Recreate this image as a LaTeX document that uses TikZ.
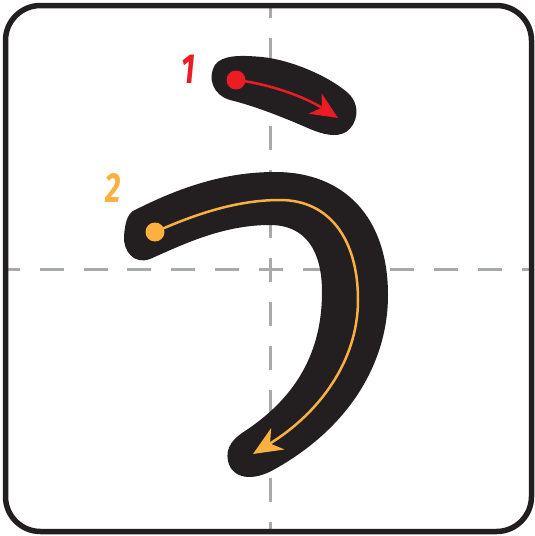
\documentclass[tikz,border=0pt]{standalone}
\usepackage{fontspec}
\setsansfont{Fira Sans}
\usetikzlibrary{arrows.meta}
\definecolor{inkblack}{HTML}{231F20}
\definecolor{strokered}{HTML}{ED1C24}
\definecolor{strokeorange}{HTML}{FBB040}
\definecolor{guidegray}{HTML}{A7A9AC}
\tikzset{
  brush/.style={fill=inkblack, draw=none},
  guide/.style={draw=guidegray, line width=3pt, dash pattern=on 24pt off 20pt},
  startdot/.style={circle, inner sep=0pt, minimum size=19pt, draw=none},
  order/.style={font=\sffamily\bfseries\itshape\fontsize{42}{42}\selectfont},
}
\begin{document}
\begin{tikzpicture}[x=1pt,y=-1pt]
\useasboundingbox (0,0) rectangle (535,536);
% guide lines
\begin{scope}
\clip (8,8) rectangle (529,529);
\coordinate (vtop) at (270,-6);
\coordinate (vbot) at (270,540);
\coordinate (hleft) at (-4,269);
\coordinate (hright) at (540,269);
\draw[guide] (vtop) -- (vbot);
\draw[guide, dash pattern=on 24pt off 19.8pt] (hleft) -- (hright);
\end{scope}
% frame
\draw[inkblack, line width=5.5pt, rounded corners=35pt] (5.5,5.5) rectangle (531.5,531.5);
% stroke 1 (brush)
\path[brush] (215,65) .. controls (222,55) and (240,55) .. (262,57)
  .. controls (292,60) and (330,77) .. (348,93)
  .. controls (361,105) and (358,124) .. (346,132)
  .. controls (336,138) and (322,134) .. (310,129)
  .. controls (285,118) and (255,106) .. (230,100)
  .. controls (213,95) and (207,78) .. (215,65) -- cycle;
% stroke 2 (brush)
\path[brush] (133,211) .. controls (180,187) and (225,172) .. (275,172)
  .. controls (345,172) and (388,218) .. (388,295)
  .. controls (388,362) and (350,427) .. (275,469)
  .. controls (253,482) and (232,479) .. (228,461)
  .. controls (225,447) and (234,438) .. (245,431)
  .. controls (298,396) and (322,350) .. (322,292)
  .. controls (322,250) and (305,225) .. (270,225)
  .. controls (222,225) and (182,245) .. (150,259)
  .. controls (134,265) and (123,251) .. (124,236)
  .. controls (125,224) and (127,215) .. (133,211) -- cycle;
% stroke 1 arrow
\node[startdot, fill=strokered] (dotone) at (236,80) {};
\coordinate (tipone) at (338,118);
\draw[strokered, line width=2.5pt, -{Stealth[length=27pt,width=24pt,inset=8pt]}]
  (dotone.center) .. controls (270,84) and (305,97) .. (tipone);
% stroke 2 arrow
\node[startdot, fill=strokeorange] (dottwo) at (155,232) {};
\coordinate (tiptwo) at (253,454);
\draw[strokeorange, line width=2.5pt, -{Stealth[length=29pt,width=25pt,inset=9pt]}]
  (dottwo.center) .. controls (200,212) and (240,200) .. (280,200)
  .. controls (330,200) and (358,240) .. (358,300)
  .. controls (358,362) and (318,414) .. (tiptwo);
% order numbers
\node[order, text=strokered] (numone) at (188,69) {\scalebox{0.72}[1]{1}};
\node[order, text=strokeorange] (numtwo) at (113,188) {\scalebox{0.72}[1]{2}};
\end{tikzpicture}
\end{document}
